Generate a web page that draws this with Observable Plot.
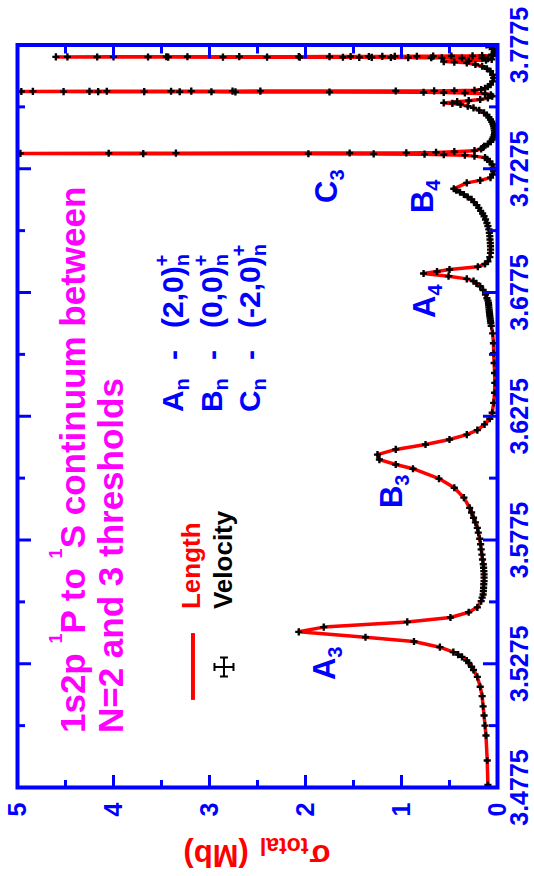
<!DOCTYPE html>
<html><head><meta charset="utf-8">
<script src="https://cdn.jsdelivr.net/npm/d3@7"></script>
<script src="https://cdn.jsdelivr.net/npm/@observablehq/plot@0.6"></script>
<style>
html,body{margin:0;padding:0;background:#fff;overflow:hidden;}
#wrap{position:relative;width:534px;height:876px;overflow:hidden;background:#fff;}
#chart{position:absolute;left:0;top:0;width:876px;height:534px;transform-origin:0 0;transform:translate(0px,876px) rotate(-90deg);}
</style></head>
<body><div id="wrap"><div id="chart"></div></div>
<script>
// ---- data (energy in a.u., sigma_total in Mb) ----
const energy = [
3.4785,3.4884,3.4985,3.5025,3.5066,3.5103,3.5144,3.5182,3.5222,3.5250,
3.5263,3.5278,3.5288,3.5303,3.5312,3.5322,3.5342,3.5365,3.5382,3.5404,
3.5423,3.5444,3.5462,3.5483,3.5503,3.5528,3.5542,3.5555,3.5569,3.5582,
3.5596,3.5609,3.5623,3.5636,3.5649,3.5663,3.5677,3.5696,3.5716,3.5737,
3.5758,3.5780,3.5805,3.5824,3.5846,3.5865,3.5886,3.5905,3.5946,3.5986,
3.6023,3.6063,3.6080,3.6100,3.6120,3.6141,3.6161,3.6181,3.6201,3.6219,
3.6242,3.6265,3.6289,3.6329,3.6370,3.6410,3.6450,3.6490,3.6530,3.6570,
3.6610,3.6640,3.6652,3.6661,3.6670,3.6679,3.6688,3.6697,3.6706,3.6715,
3.6724,3.6733,3.6742,3.6752,3.6767,3.6785,3.6800,3.6812,3.6821,3.6830,
3.6841,3.6852,3.6860,3.6868,3.6879,3.6890,3.6901,3.6918,3.6935,3.6948,
3.6962,3.6975,3.6989,3.7003,3.7016,3.7030,3.7043,3.7056,3.7070,3.7083,
3.7094,3.7105,3.7117,3.7128,3.7140,3.7151,3.7161,3.7171,3.7180,3.7188,
3.7194,3.7218,3.7228,3.7239,3.7252,3.7265,3.7279,3.7292,3.7305,3.7313,
3.7320,3.7326,3.7330,3.7332,3.7334,3.7335,3.73355,3.7336,3.73365,3.7337,
3.73375,3.7338,3.73385,3.7339,3.7341,3.7344,3.7348,3.7355,3.7361,3.7366,
3.7375,3.7384,3.7393,3.7402,3.7411,3.7420,3.7429,3.7438,3.7447,3.7456,
3.7465,3.7474,3.7483,3.7492,3.7501,3.7511,3.7521,3.7528,3.7535,3.7539,
3.7541,3.7546,3.7550,3.7555,3.7561,3.7568,3.7574,
3.7578,3.7581,3.7583,3.7584,3.7585,3.75855,3.7586,3.75862,3.75864,3.75866,
3.75868,3.7587,3.75872,3.75875,3.75878,3.7588,3.75882,3.75884,3.75886,3.75888,
3.7589,3.75895,3.7590,3.7592,3.7595,
3.7600,3.7607,3.7615,3.7628,3.7642,3.7655,3.7669,3.7679,3.7689,3.7696,
3.7703,3.7706,3.7708,3.7711,3.7714,3.7717,
3.7720,3.7722,3.77225,3.7723,3.77235,3.7724,3.77245,3.7725,3.77252,3.77254,
3.77256,3.77258,3.7726,3.77262,3.77264,3.77266,3.77268,3.7727,3.77272,3.77274,
3.77276,3.77278,3.7728,3.77282,3.77284,3.77286,3.77288,3.7729,3.77295,3.7730,
3.77305,3.7731,3.7732,3.7733,
3.7736,3.7740,3.7745,3.7752,3.7760,3.7768,3.7775
];
const sigmaLength = [
0.10,0.107,0.12,0.13,0.14,0.15,0.16,0.18,0.21,0.25,
0.27,0.30,0.32,0.37,0.41,0.46,0.60,0.87,1.375,2.07,
1.81,0.94,0.49,0.30,0.21,0.17,0.16,0.15,0.147,0.145,
0.143,0.14,0.14,0.14,0.142,0.145,0.148,0.156,0.162,0.17,
0.176,0.185,0.20,0.21,0.23,0.25,0.27,0.29,0.35,0.45,
0.61,0.88,1.06,1.23,1.25,1.06,0.75,0.50,0.32,0.21,
0.135,0.08,0.055,0.04,0.03,0.028,0.03,0.035,0.04,0.042,
0.05,0.065,0.07,0.073,0.076,0.08,0.082,0.085,0.087,0.09,
0.092,0.094,0.10,0.11,0.125,0.15,0.18,0.22,0.25,0.32,
0.51,0.77,0.63,0.50,0.205,0.13,0.10,0.08,0.073,0.072,
0.073,0.075,0.078,0.08,0.085,0.09,0.10,0.11,0.125,0.14,
0.155,0.175,0.195,0.215,0.245,0.27,0.31,0.35,0.39,0.43,
0.455,0.32,0.18,0.073,0.05,0.04,0.045,0.055,0.08,0.107,
0.13,0.24,0.34,0.56,0.76,1.29,1.97,3.69,9.0,4.97,
4.05,3.35,1.54,0.95,0.64,0.45,0.24,0.17,0.15,0.14,
0.10,0.07,0.055,0.045,0.035,0.03,0.032,0.036,0.04,0.048,
0.06,0.073,0.09,0.11,0.14,0.19,0.25,0.31,0.385,0.47,
0.56,0.42,0.30,0.18,0.10,0.055,0.07,
0.13,0.34,0.56,0.77,1.75,2.73,2.98,3.31,3.68,4.16,
4.52,4.96,9.0,4.84,4.25,4.07,3.40,3.19,2.76,2.47,
1.06,0.66,0.45,0.24,0.17,
0.13,0.10,0.073,0.05,0.04,0.05,0.073,0.11,0.16,0.23,
0.32,0.45,0.56,0.30,0.12,0.06,
0.10,0.16,0.37,0.58,0.69,0.93,1.11,1.31,1.44,1.61,
2.06,2.40,2.86,3.43,3.64,4.17,4.48,4.60,4.00,3.45,
3.23,2.69,2.07,1.75,1.53,1.34,1.20,1.07,0.84,0.67,
0.48,0.26,0.16,0.05,
0.06,0.03,0.02,0.03,0.05,0.08,0.115
];
// velocity-gauge points coincide with the length-gauge curve at this resolution
const sigmaVelocity = sigmaLength;

const energyTicks = [3.4775,3.5275,3.5775,3.6275,3.6775,3.7275,3.7775];
const energyTickLabels = ["3.4775","3.5275","3.5775","3.6275","3.6775","3.7275","3.7775"];
const energyMinorTicks = [3.5025,3.5525,3.6025,3.6525,3.7025,3.7525];
const sigmaTicks = [0,1,2,3,4,5];
const sigmaTickLabels = ["0","1","2","3","4","5"];
const sigmaMinorTicks = [0.5,1.5,2.5,3.5,4.5];

// ---- layout / style ----
const FONT = "'Liberation Sans', Arial, Helvetica, sans-serif";
const BLUE = "#0000ff", RED = "#ff0000", MAGENTA = "#ff00ff";
const W = 876, H = 534, mL = 88, mR = 45.5, mT = 17, mB = 37;
const innerW = W - mL - mR, innerH = H - mT - mB;

const n = Math.min(energy.length, sigmaLength.length);
const rows = d3.range(n).map(i => ({e: energy[i], len: sigmaLength[i], vel: sigmaVelocity[i]}));
const eTicks = energyTicks.map((v, i) => ({v, label: energyTickLabels[i]}));
const sTicks = sigmaTicks.map((v, i) => ({v, label: sigmaTickLabels[i]}));

const tickStyle = {stroke: BLUE, strokeWidth: 3};
const plot = Plot.plot({
  width: W, height: H,
  marginLeft: mL, marginRight: mR, marginTop: mT, marginBottom: mB,
  x: {domain: [3.4775, 3.7775], axis: null},
  y: {domain: [0, 5], axis: null},
  style: {fontFamily: FONT, background: "#fff", overflow: "visible"},
  marks: [
    Plot.line(rows, {x: "e", y: "len", stroke: RED, strokeWidth: 3.5, clip: true}),
    Plot.dot(rows, {x: "e", y: "vel", symbol: "cross", r: 3.0, fill: "#000", stroke: "none", clip: true}),
    Plot.ruleX(energyTicks, {x: d => d, insetTop: innerH - 14, ...tickStyle}),
    Plot.ruleX(energyTicks, {x: d => d, insetBottom: innerH - 14, ...tickStyle}),
    Plot.ruleX(energyMinorTicks, {x: d => d, insetTop: innerH - 8, ...tickStyle}),
    Plot.ruleX(energyMinorTicks, {x: d => d, insetBottom: innerH - 8, ...tickStyle}),
    Plot.ruleY(sigmaTicks, {y: d => d, insetRight: innerW - 13, ...tickStyle}),
    Plot.ruleY(sigmaTicks, {y: d => d, insetLeft: innerW - 13, ...tickStyle}),
    Plot.ruleY(sigmaMinorTicks, {y: d => d, insetRight: innerW - 8, ...tickStyle}),
    Plot.ruleY(sigmaMinorTicks, {y: d => d, insetLeft: innerW - 8, ...tickStyle}),
    Plot.frame({stroke: BLUE, strokeWidth: 4}),
    Plot.text(eTicks, {x: "v", text: "label", frameAnchor: "bottom", dy: 13, lineAnchor: "top",
      fill: BLUE, fontSize: 25, fontWeight: "bold"}),
    Plot.text(sTicks, {y: "v", text: "label", frameAnchor: "left", dx: -15, textAnchor: "end",
      fill: BLUE, fontSize: 25, fontWeight: "bold"})
  ]
});
document.getElementById("chart").append(plot);

// ---- annotations positioned through the plot's scales ----
const sx = plot.scale("x"), sy = plot.scale("y");
const X = v => sx.apply(v), Y = v => sy.apply(v);
const ann = d3.select(plot).append("g").attr("text-anchor", "start");

function richText(parent, pieces, o) {
  const g = parent.append("g").attr("text-anchor", "start");
  let cx = 0, pend = 0;
  for (const p of pieces) {
    cx += p.gap || 0;
    const el = g.append("text")
      .attr("x", cx).attr("y", p.dy || 0)
      .attr("text-anchor", "start")
      .attr("font-family", FONT).attr("font-weight", "bold")
      .attr("font-size", p.size || o.size)
      .attr("fill", p.fill || o.fill)
      .text(p.t);
    const w = el.node().getComputedTextLength();
    if (p.stack) pend = Math.max(pend, w);
    else { cx += Math.max(w, pend); pend = 0; }
  }
  cx += pend;
  const off = o.anchor === "middle" ? -cx / 2 : o.anchor === "end" ? -cx : 0;
  const pre = o.transform ? o.transform + " " : `translate(${o.x},${o.y}) `;
  g.attr("transform", pre + `translate(${off},0)`);
  return g;
}

// title
richText(ann, [
  {t: "1s2p"}, {t: "1", size: 18, dy: -23, gap: 9.7}, {t: "P to"},
  {t: "1", size: 18, dy: -23, gap: 9.7}, {t: "S continuum between"}
], {x: X(3.4997), y: Y(4.292), fill: MAGENTA, size: 35});
richText(ann, [{t: "N=2 and 3 thresholds"}], {x: X(3.4997), y: Y(3.896), fill: MAGENTA, size: 35});

// resonance labels
const resonanceLabels = [
  {main: "A", sub: "3", e: 3.5211, s: 1.6875},
  {main: "B", sub: "3", e: 3.5906, s: 0.99},
  {main: "A", sub: "4", e: 3.6674, s: 0.646},
  {main: "B", sub: "4", e: 3.7098, s: 0.667},
  {main: "C", sub: "3", e: 3.7139, s: 1.667}
];
for (const r of resonanceLabels) {
  richText(ann, [{t: r.main}, {t: r.sub, size: 20, dy: 7}], {x: X(r.e), y: Y(r.s), fill: BLUE, size: 31});
}

// series key A_n, B_n, C_n
const seriesKey = [
  {name: "A", state: "(2,0)", s: 3.271},
  {name: "B", state: "(0,0)", s: 2.865},
  {name: "C", state: "(-2,0)", s: 2.469}
];
for (const k of seriesKey) {
  richText(ann, [{t: k.name}, {t: "n", size: 20, dy: 6}], {x: X(3.6294), y: Y(k.s), fill: BLUE, size: 30});
  richText(ann, [{t: "-"}], {x: X(3.6524), y: Y(k.s), fill: BLUE, size: 30, anchor: "middle"});
  richText(ann, [{t: k.state}, {t: "+", size: 20, dy: -14, stack: true}, {t: "n", size: 20, dy: 6}],
    {x: X(3.6634), y: Y(k.s), fill: BLUE, size: 30});
}

// legend
ann.append("line")
  .attr("x1", X(3.5131)).attr("x2", X(3.5401)).attr("y1", Y(3.167)).attr("y2", Y(3.167))
  .attr("stroke", RED).attr("stroke-width", 4);
richText(ann, [{t: "Length"}], {x: X(3.5498), y: Y(3.094), fill: RED, size: 26});
richText(ann, [{t: "Velocity"}], {x: X(3.5498), y: Y(2.760), fill: "#000", size: 26});
{
  const cx = X(3.5264), cy = Y(2.844), a = 9.5, c = 4;
  ann.append("path")
    .attr("d", `M${cx-a},${cy}H${cx+a}M${cx},${cy-a}V${cy+a}` +
      `M${cx-a},${cy-c}V${cy+c}M${cx+a},${cy-c}V${cy+c}M${cx-c},${cy-a}H${cx+c}M${cx-c},${cy+a}H${cx+c}`)
    .attr("stroke", "#000").attr("stroke-width", 2).attr("fill", "none");
}

// y-axis title (sigma_total (Mb))
richText(ann, [{t: "σ"}, {t: "total", size: 23, dy: 7, gap: 1}, {t: "(Mb)", gap: 11}],
  {anchor: "middle", transform: `translate(31,${Y(2.5)}) rotate(-90)`, fill: RED, size: 31});
</script>
</body></html>
